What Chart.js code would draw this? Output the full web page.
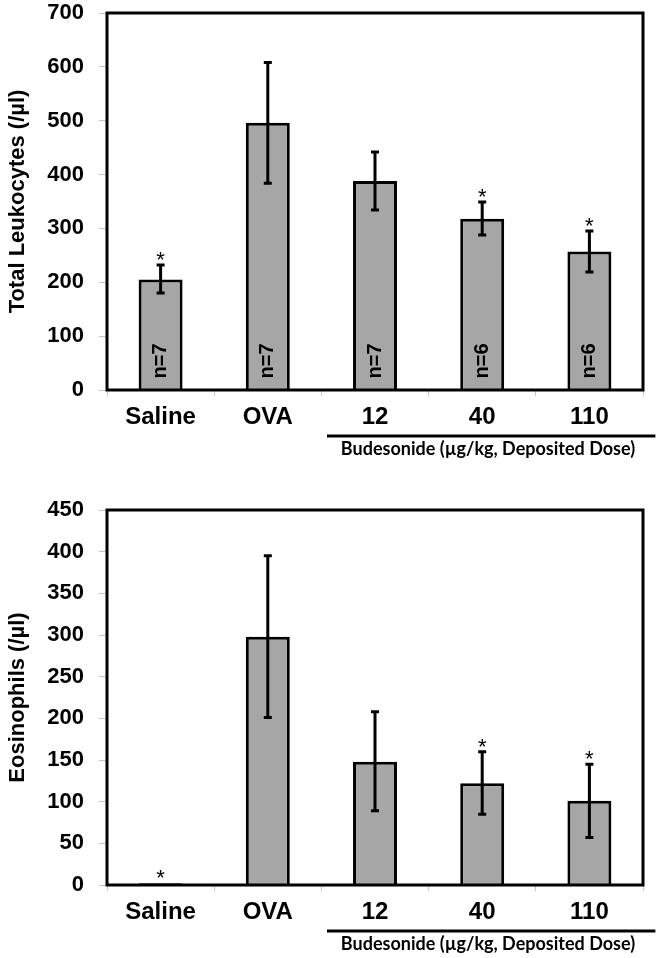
<!DOCTYPE html>
<html>
<head>
<meta charset="utf-8">
<script src="https://cdn.jsdelivr.net/npm/chart.js@4/dist/chart.umd.min.js"></script>
<style>
  body { margin: 0; background: #fff; width: 660px; height: 958px; position: relative; }
  canvas { position: absolute; left: 0; }
  #leuk { top: 0; }
  #eos { top: 470px; }
</style>
</head>
<body>
<canvas id="leuk" width="660" height="470"></canvas>
<canvas id="eos" width="660" height="488"></canvas>
<script>
const groups = ['Saline', 'OVA', '12', '40', '110'];

const leukMean = [205, 496, 388, 318, 257];
const leukLow = [180, 384, 334, 288, 219];
const leukHigh = [232, 608, 442, 349, 295];
const leukStar = [true, false, false, true, true];
const leukN = ['n=7', 'n=7', 'n=7', 'n=6', 'n=6'];

const eosMean = [2, 298, 148, 122, 101];
const eosLow = [2, 201, 89, 85, 57];
const eosHigh = [2, 395, 208, 160, 145];
const eosStar = [true, false, false, true, true];

const doseLabel = 'Budesonide (\u00b5g/kg, Deposited Dose)';

function extrasPlugin(low, high, stars, nLabels) {
  return {
    id: 'extras',
    afterDatasetsDraw(chart) {
      const ctx = chart.ctx;
      const x = chart.scales.x;
      const y = chart.scales.y;
      const area = chart.chartArea;
      ctx.save();

      // n labels inside bars
      if (nLabels) {
        ctx.fillStyle = '#000';
        ctx.font = 'bold 20px "Liberation Sans", Arial, sans-serif';
        ctx.textAlign = 'center';
        ctx.textBaseline = 'middle';
        nLabels.forEach((t, i) => {
          ctx.save();
          ctx.translate(x.getPixelForValue(i), area.bottom - 29);
          ctx.rotate(-Math.PI / 2);
          ctx.fillText(t, 0, 0);
          ctx.restore();
        });
      }

      // error bars
      ctx.strokeStyle = '#000';
      ctx.lineWidth = 3;
      low.forEach((lo, i) => {
        const hi = high[i];
        if (hi === lo) return;
        const cx = x.getPixelForValue(i);
        const y1 = y.getPixelForValue(lo);
        const y2 = y.getPixelForValue(hi);
        ctx.beginPath();
        ctx.moveTo(cx, y1);
        ctx.lineTo(cx, y2);
        ctx.moveTo(cx - 4, y1);
        ctx.lineTo(cx + 4, y1);
        ctx.moveTo(cx - 4, y2);
        ctx.lineTo(cx + 4, y2);
        ctx.stroke();
      });

      // significance stars
      ctx.fillStyle = '#000';
      ctx.font = '22px "Liberation Sans", Arial, sans-serif';
      ctx.textAlign = 'center';
      ctx.textBaseline = 'alphabetic';
      stars.forEach((s, i) => {
        if (!s) return;
        const top = y.getPixelForValue(Math.max(high[i], chart.data.datasets[0].data[i]));
        ctx.fillText('*', x.getPixelForValue(i), top + 2);
      });

      // plot frame
      ctx.lineWidth = 3;
      ctx.strokeRect(area.left, area.top, area.right - area.left, area.bottom - area.top);

      // dose bracket and label
      const lineY = area.bottom + 46;
      ctx.lineWidth = 3;
      ctx.beginPath();
      ctx.moveTo(x.getPixelForValue(2) - 48, lineY);
      ctx.lineTo(x.getPixelForValue(4) + 66, lineY);
      ctx.stroke();
      ctx.font = 'bold 18px Lato, "Open Sans", sans-serif';
      ctx.textBaseline = 'middle';
      ctx.fillText(doseLabel, 488, lineY + 13, 297);

      ctx.restore();
    }
  };
}

function makeChart(id, mean, low, high, stars, nLabels, yMax, yStep, title, padTop, xHeight) {
  return new Chart(document.getElementById(id), {
    type: 'bar',
    data: {
      labels: groups,
      datasets: [{
        data: mean,
        backgroundColor: '#a6a6a6',
        borderColor: '#000',
        borderWidth: 3,
        barPercentage: 0.41,
        categoryPercentage: 1
      }]
    },
    options: {
      responsive: false,
      animation: false,
      layout: { padding: { top: padTop, right: 17, left: 0, bottom: 0 } },
      plugins: { legend: { display: false }, tooltip: { enabled: false } },
      scales: {
        x: {
          border: { display: false },
          grid: { drawOnChartArea: false, tickLength: 6, color: '#c4c4c4', offset: true },
          ticks: {
            color: '#000',
            padding: 7,
            font: { family: '"Liberation Sans", Arial, sans-serif', size: 24, weight: 'bold' }
          },
          afterFit(scale) { scale.height = xHeight; }
        },
        y: {
          min: 0,
          max: yMax,
          border: { display: false },
          grid: { drawOnChartArea: false, tickLength: 8, color: '#c4c4c4' },
          ticks: {
            stepSize: yStep,
            color: '#000',
            padding: 15,
            font: { family: '"Liberation Sans", Arial, sans-serif', size: 22, weight: 'bold' }
          },
          title: {
            display: true,
            text: title,
            color: '#000',
            padding: { top: 5, bottom: 0 },
            font: { family: '"Liberation Sans", Arial, sans-serif', size: 22, weight: 'bold' }
          },
          afterFit(scale) {
            scale.width = 107;
            scale.paddingTop = 0;
          }
        }
      }
    },
    plugins: [extrasPlugin(low, high, stars, nLabels)]
  });
}

makeChart('leuk', leukMean, leukLow, leukHigh, leukStar, leukN, 700, 100, 'Total Leukocytes (/\u00b5l)', 13, 80);
makeChart('eos', eosMean, eosLow, eosHigh, eosStar, null, 450, 50, 'Eosinophils (/\u00b5l)', 40, 73);
</script>
</body>
</html>
